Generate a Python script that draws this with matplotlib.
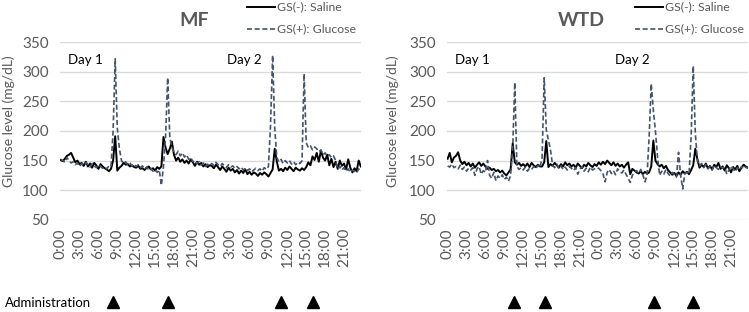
import matplotlib
matplotlib.use("Agg")
import matplotlib.pyplot as plt
from matplotlib.lines import Line2D
from matplotlib.transforms import blended_transform_factory
import numpy as np

plt.rcParams['font.family'] = ['Lato', 'DejaVu Sans']

# time of day labels (3-hour ticks over two days)
tick_hours = list(range(0, 48, 3))
tick_labels = [f"{h % 24}:00" for h in tick_hours]
step_h = 20 / 60.0  # readings every 20 minutes

# MF panel
mf_saline = [
    151, 149, 153, 158, 160, 163, 155, 147, 150, 144, 146, 141,
    148, 140, 145, 138, 146, 142, 136, 144, 140, 137, 135, 132,
    136, 150, 191, 133, 138, 141, 146, 143, 144, 140, 142, 139,
    138, 141, 136, 137, 134, 138, 140, 135, 137, 133, 139, 136,
    140, 190, 172, 161, 170, 182, 160, 150, 155, 148, 152, 146,
    150, 145, 152, 147, 141, 148, 143, 146, 140, 144, 139, 142,
    141, 137, 143, 139, 134, 140, 136, 131, 138, 133, 136, 130,
    134, 128, 133, 129, 135, 127, 131, 126, 130, 128, 124, 129,
    126, 130, 127, 123, 129, 135, 170, 148, 133, 136, 132, 138,
    134, 140, 136, 132, 138, 135, 133, 137, 134, 139, 147, 142,
    157, 151, 163, 148, 167, 155, 150, 160, 142, 153, 139, 148,
    136, 150, 141, 145, 135, 152, 138, 130, 137, 132, 150, 140,
]
mf_glucose = [
    152, 150, 147, 155, 150, 146, 148, 143, 146, 140, 145, 142,
    147, 143, 139, 145, 141, 138, 143, 140, 137, 139, 136, 141,
    140, 200, 322, 205, 170, 150, 145, 148, 143, 146, 141, 144,
    140, 143, 138, 141, 136, 139, 134, 137, 132, 135, 130, 134,
    108, 140, 190, 290, 190, 172, 165, 160, 166, 158, 163, 156,
    160, 152, 155, 148, 150, 145, 148, 142, 146, 140, 144, 141,
    145, 142, 147, 143, 140, 145, 141, 138, 143, 139, 141, 137,
    140, 136, 139, 134, 137, 133, 136, 131, 134, 137, 133, 136,
    132, 138, 135, 140, 210, 328, 205, 155, 148, 152, 145, 150,
    146, 150, 144, 148, 143, 147, 145, 150, 297, 180, 172, 175,
    168, 173, 170, 165, 168, 160, 163, 157, 160, 155, 158, 150,
    135, 140, 134, 138, 132, 136, 130, 134, 132, 129, 136, 131,
]

# WTD panel
wtd_saline = [
    153, 163, 147, 155, 158, 164, 150, 144, 148, 142, 146, 140,
    145, 138, 143, 147, 141, 145, 140, 136, 138, 134, 136, 132,
    134, 130, 133, 128, 125, 130, 135, 179, 147, 143, 146, 141,
    144, 140, 145, 139, 146, 142, 139, 143, 140, 140, 147, 183,
    139, 144, 141, 146, 142, 138, 144, 140, 147, 142, 145, 140,
    143, 138, 145, 141, 137, 143, 140, 146, 142, 139, 144, 141,
    147, 143, 148, 144, 150, 146, 142, 147, 141, 145, 140, 143,
    138, 143, 147, 127, 136, 133, 130, 128, 132, 127, 131, 128,
    130, 140, 184, 150, 144, 140, 143, 137, 141, 134, 130, 126,
    129, 124, 130, 126, 132, 128, 131, 127, 134, 142, 170, 152,
    138, 143, 139, 145, 137, 141, 135, 143, 139, 146, 136, 140,
    133, 142, 137, 130, 139, 135, 141, 132, 138, 143, 140, 138,
]
wtd_glucose = [
    141, 139, 144, 138, 140, 136, 142, 135, 139, 132, 137, 134,
    138, 125, 136, 140, 127, 133, 130, 150, 125, 120, 130, 116,
    124, 120, 126, 118, 122, 115, 125, 170, 282, 140, 135, 138,
    134, 139, 132, 137, 135, 140, 136, 142, 138, 155, 290, 202,
    185, 168, 142, 138, 144, 136, 141, 135, 139, 134, 140, 137,
    133, 138, 127, 135, 140, 132, 137, 131, 139, 134, 136, 138,
    137, 133, 128, 114, 130, 135, 128, 133, 126, 136, 131, 129,
    134, 127, 120, 113, 125, 130, 133, 128, 135, 126, 114, 125,
    190, 280, 235, 200, 156, 125, 132, 127, 135, 128, 124, 130,
    126, 122, 164, 125, 102, 128, 130, 127, 190, 310, 196, 150,
    141, 145, 138, 143, 136, 140, 134, 142, 138, 135, 140, 137,
    139, 127, 134, 141, 136, 131, 138, 134, 140, 136, 139, 137,
]

mf_admin_h = [8.25, 17.0, 35.0, 40.0]
wtd_admin_h = [10.6, 15.5, 32.75, 38.9]

panels = [
    dict(title="MF", saline=mf_saline, glucose=mf_glucose, admin=mf_admin_h,
         rect=[60/749, 1-219.7/312, 301/749, 177.4/312],
         title_x=194.5, leg_x=247, day_x=(68, 227), ylab_x=9),
    dict(title="WTD", saline=wtd_saline, glucose=wtd_glucose, admin=wtd_admin_h,
         rect=[447/749, 1-219.7/312, 301/749, 177.4/312],
         title_x=581, leg_x=635, day_x=(455, 615), ylab_x=393),
]

GRAY = "#595959"
GLU = "#44546A"
W, H = 749, 312

fig = plt.figure(figsize=(7.49, 3.12), dpi=100)

def fx(px):
    return px / W

def fy(py):
    return 1 - py / H

for p in panels:
    ax = fig.add_axes(p["rect"])
    t = np.arange(len(p["saline"])) * step_h
    ax.plot(t, p["saline"], color="black", lw=1.4, zorder=3)
    ax.plot(t, p["glucose"], color=GLU, lw=1.2, ls=(0, (3, 1.6)), zorder=4)
    ax.set_ylim(50, 350)
    ax.set_yticks([50, 100, 150, 200, 250, 300, 350])
    ax.set_xlim(-0.1, 47.7)
    ax.set_xticks(tick_hours)
    ax.set_xticklabels(tick_labels, rotation=90)
    ax.tick_params(length=0, labelsize=11, labelcolor=GRAY)
    ax.tick_params(axis='y', pad=8)
    ax.tick_params(axis='x', pad=6)
    for s in ax.spines.values():
        s.set_visible(False)
    ax.grid(axis='y', color="#d9d9d9", lw=1)
    ax.set_axisbelow(True)

    fig.text(fx(p["ylab_x"]), fy(121), "Glucose level (mg/dL)", rotation=90,
             ha="center", va="center", fontsize=10, color=GRAY)
    fig.text(fx(p["title_x"]), fy(20), p["title"], ha="center", va="center",
             fontsize=14, fontweight="bold", color=GRAY)
    lx = p["leg_x"]
    fig.add_artist(Line2D([fx(lx), fx(lx + 28)], [fy(7), fy(7)], color="black", lw=1.4))
    fig.add_artist(Line2D([fx(lx), fx(lx + 28)], [fy(29), fy(29)], color=GLU, lw=1.2,
                          ls=(0, (3, 1.6))))
    fig.text(fx(lx + 30), fy(7), "GS(-): Saline", ha="left", va="center",
             fontsize=8.8, color=GRAY)
    fig.text(fx(lx + 30), fy(29), "GS(+): Glucose", ha="left", va="center",
             fontsize=8.8, color=GRAY)
    fig.text(fx(p["day_x"][0]), fy(60), "Day 1", ha="left", va="center",
             fontsize=9.5, color="black")
    fig.text(fx(p["day_x"][1]), fy(60), "Day 2", ha="left", va="center",
             fontsize=9.5, color="black")

    tr = blended_transform_factory(ax.transData, fig.transFigure)
    ax.plot(p["admin"], [fy(302)] * len(p["admin"]), ls="none", marker="^",
            color="black", markersize=9, transform=tr, clip_on=False)

fig.text(fx(5), fy(303), "Administration", ha="left", va="center",
         fontsize=9.5, color="black")

fig.savefig("out.png", dpi=100)
